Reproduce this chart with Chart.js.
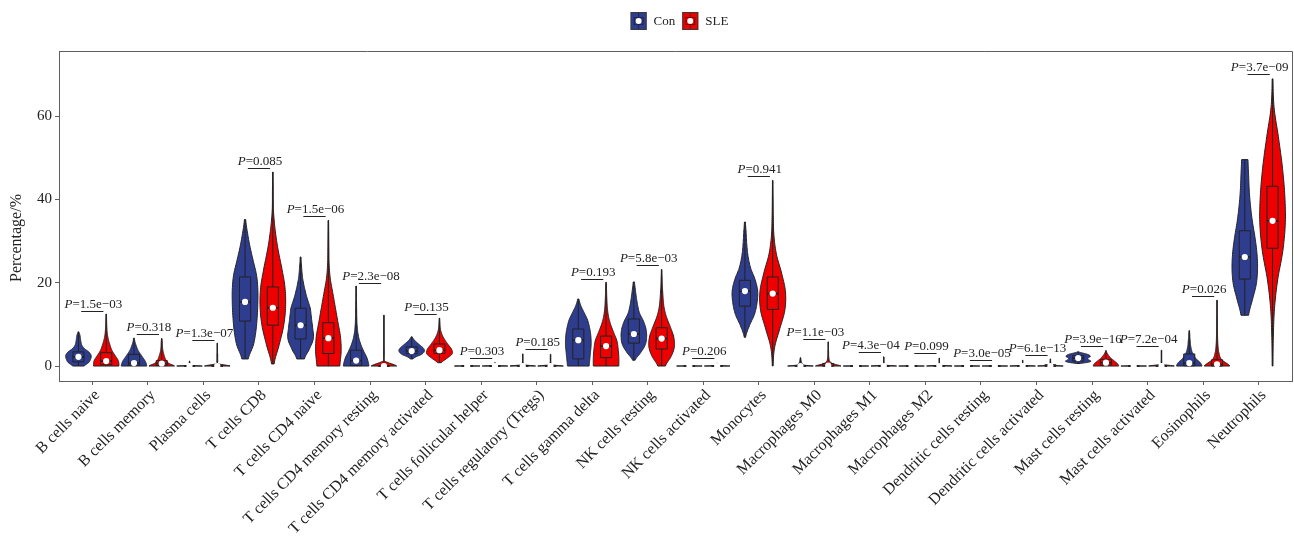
<!DOCTYPE html>
<html>
<head>
<meta charset="utf-8">
<title>Immune cell fractions: Con vs SLE</title>
<script src="https://cdn.jsdelivr.net/npm/chart.js@4.4.1/dist/chart.umd.min.js"></script>
<style>
  html, body { margin: 0; padding: 0; background: #ffffff; }
  #wrap { width: 1294px; height: 538px; }
</style>
</head>
<body>
<div id="wrap"><canvas id="chart" width="1294" height="538"></canvas></div>
<script>
// ---- data -------------------------------------------------------------
const cellTypes = [
  'B cells naive', 'B cells memory', 'Plasma cells', 'T cells CD8', 'T cells CD4 naive',
  'T cells CD4 memory resting', 'T cells CD4 memory activated', 'T cells follicular helper',
  'T cells regulatory (Tregs)', 'T cells gamma delta', 'NK cells resting', 'NK cells activated',
  'Monocytes', 'Macrophages M0', 'Macrophages M1', 'Macrophages M2', 'Dendritic cells resting',
  'Dendritic cells activated', 'Mast cells resting', 'Mast cells activated', 'Eosinophils', 'Neutrophils'
];
const yTicks = [0, 20, 40, 60];

// P values of the Con vs SLE comparison and the height of each bracket (%)
const pValues = ['1.5e\u221203', '0.318', '1.3e\u221207', '0.085', '1.5e\u221206', '2.3e\u221208', '0.135',
  '0.303', '0.185', '0.193', '5.8e\u221203', '0.206', '0.941', '1.1e\u221203', '4.3e\u221204', '0.099',
  '3.0e\u221205', '6.1e\u221213', '3.9e\u221216', '7.2e\u221204', '0.026', '3.7e\u221209'];
const bracketY = [13.2, 7.8, 6.2, 47.6, 36.1, 20.0, 12.5, 2.0, 4.1, 21.0, 24.2, 1.9,
  45.6, 6.5, 3.3, 3.1, 1.4, 2.6, 4.8, 4.9, 16.8, 70.2];

// Con group: range, quartiles and relative density (11 levels from low to high)
const conLow    = [0, 0, 0, 1.7, 1.7, 0, 1.7, 0, 0, 0, 1.4, 0, 6.9, 0, 0, 0, 0, 0, 0.6, 0, 0, 12.2];
const conHigh   = [8.2, 6.7, 1.2, 35.2, 26.2, 19.2, 7.0, 0.4, 2.9, 16.1, 20.2, 0.3, 34.6, 2.0, 0.3, 0.3, 0.3, 1.4, 3.4, 0.3, 8.5, 49.6];
const conQ1     = [1.0, 0.2, 0, 10.8, 6.5, 0.1, 3.0, 0, 0, 1.7, 5.5, 0, 14.4, 0, 0, 0, 0, 0, 1.2, 0, 0.05, 20.9];
const conMedian = [2.2, 0.7, 0, 15.4, 9.8, 1.3, 3.6, 0, 0, 6.2, 7.7, 0, 18.0, 0, 0, 0, 0, 0, 1.9, 0, 0.7, 26.2];
const conQ3     = [3.4, 2.8, 0.05, 21.4, 13.9, 3.8, 4.6, 0.02, 0.05, 8.9, 11.3, 0.02, 20.6, 0.1, 0.02, 0.02, 0.02, 0.1, 2.5, 0.02, 2.9, 32.5];
const conDensity = [
  [.45, .8, .95, 1.0, .85, .5, .28, .2, .16, .12, .04],
  [1.0, .95, .85, .7, .55, .4, .28, .2, .12, .06, .03],
  [1.0, .08, .05, .04, .03, .03, .03, .03, .03, .02, .02],
  [.25, .65, .85, .95, 1.0, 1.0, .9, .65, .4, .2, .05],
  [.3, .7, 1.0, .95, .85, .75, .5, .3, .15, .08, .03],
  [1.0, .85, .55, .3, .15, .08, .05, .04, .03, .02, .02],
  [.1, .35, .75, .95, 1.0, .9, .7, .5, .3, .15, .05],
  [1.0, .3, .1, .05, .04, .03, .03, .02, .02, .02, .02],
  [1.0, .06, .03, .03, .02, .02, .02, .02, .02, .02, .02],
  [.85, .9, .95, 1.0, 1.0, .95, .85, .7, .45, .2, .05],
  [.1, .55, .9, 1.0, .95, .75, .45, .3, .2, .12, .05],
  [1.0, .3, .1, .05, .04, .03, .03, .02, .02, .02, .02],
  [.05, .35, .75, .95, 1.0, .8, .45, .25, .15, .1, .04],
  [1.0, .3, .2, .15, .1, .08, .06, .05, .04, .03, .02],
  [1.0, .3, .1, .05, .04, .03, .03, .02, .02, .02, .02],
  [1.0, .3, .1, .05, .04, .03, .03, .02, .02, .02, .02],
  [1.0, .3, .1, .05, .04, .03, .03, .02, .02, .02, .02],
  [1.0, .08, .04, .03, .02, .02, .02, .02, .02, .02, .02],
  [.15, .75, 1.0, .85, .75, .8, .95, .9, .7, .35, .05],
  [1.0, .3, .1, .05, .04, .03, .03, .02, .02, .02, .02],
  [1.0, .85, .55, .35, .22, .15, .1, .08, .05, .04, .02],
  [.3, .6, .9, 1.0, .95, .8, .6, .45, .35, .3, .25]
];

// SLE group
const sleLow    = [0, 0, 0, 0.5, 0, 0, 0.8, 0, 0, 0, 0, 0, 0, 0, 0, 0, 0, 0, 0, 0, 0, 0];
const sleHigh   = [12.5, 6.6, 5.5, 46.6, 35.0, 12.2, 11.5, 0.8, 2.8, 20.1, 23.2, 0.7, 44.6, 5.8, 2.2, 1.9, 0.3, 1.7, 3.7, 3.8, 15.8, 69.0];
const sleQ1     = [0.3, 0.1, 0, 9.8, 3.0, 0, 3.0, 0, 0, 2.0, 4.1, 0, 13.6, 0, 0, 0, 0, 0, 0.2, 0, 0, 28.3];
const sleMedian = [1.2, 0.6, 0, 14.0, 6.7, 0, 3.8, 0, 0, 4.8, 6.6, 0, 17.4, 0.1, 0, 0, 0, 0, 0.8, 0, 0.4, 34.9];
const sleQ3     = [3.2, 1.3, 0.05, 19.0, 10.4, 0.1, 5.3, 0.02, 0.05, 7.2, 9.2, 0.02, 21.4, 0.6, 0.05, 0.05, 0.02, 0.3, 1.6, 0.05, 1.5, 43.2];
const sleDensity = [
  [1.0, .95, .7, .45, .3, .18, .1, .06, .04, .03, .02],
  [1.0, .55, .35, .25, .18, .12, .08, .06, .05, .04, .02],
  [1.0, .06, .04, .03, .03, .03, .02, .02, .02, .02, .02],
  [.1, .5, .85, 1.0, .95, .7, .4, .18, .05, .03, .02],
  [.9, 1.0, .95, .75, .55, .35, .15, .06, .04, .03, .02],
  [1.0, .05, .03, .03, .02, .02, .02, .02, .02, .02, .02],
  [.15, .6, 1.0, .95, .7, .45, .25, .12, .06, .04, .02],
  [1.0, .3, .1, .05, .04, .03, .03, .02, .02, .02, .02],
  [1.0, .06, .03, .03, .02, .02, .02, .02, .02, .02, .02],
  [1.0, 1.0, .95, .85, .6, .35, .18, .1, .06, .04, .02],
  [.3, .75, 1.0, .95, .7, .4, .2, .12, .07, .04, .02],
  [1.0, .3, .1, .05, .04, .03, .03, .02, .02, .02, .02],
  [.03, .15, .55, .95, 1.0, .7, .3, .1, .05, .03, .02],
  [1.0, .35, .12, .06, .04, .03, .03, .02, .02, .02, .02],
  [1.0, .06, .03, .03, .02, .02, .02, .02, .02, .02, .02],
  [1.0, .06, .03, .03, .02, .02, .02, .02, .02, .02, .02],
  [1.0, .3, .1, .05, .04, .03, .03, .02, .02, .02, .02],
  [1.0, .3, .12, .06, .04, .03, .03, .02, .02, .02, .02],
  [1.0, .95, .85, .7, .55, .4, .3, .2, .12, .06, .02],
  [1.0, .06, .03, .03, .02, .02, .02, .02, .02, .02, .02],
  [1.0, .35, .15, .08, .05, .04, .03, .03, .02, .02, .02],
  [.03, .06, .15, .4, .8, 1.0, .95, .75, .45, .12, .03]
];

// ---- styling ----------------------------------------------------------
const FONT = "'Liberation Serif', 'Times New Roman', serif";
const INK = '#222222';
const AXIS = '#5f5f5f';
const CON_FILL = '#2F3D8E';
const SLE_FILL = '#EE0000';
const GROUP_SHIFT = 0.25;   // dodge of each group from the category centre (x units)
const HALF_VIOLIN = 0.23;   // half of the widest violin (x units)
const HALF_BOX = 0.1;
const HALF_BRACKET = 0.2;

// smooth density lookup (Catmull-Rom through the 11 levels)
function densityAt(w, t) {
  const n = w.length - 1;
  const s = Math.min(Math.max(t, 0), 1) * n;
  const i = Math.min(Math.floor(s), n - 1);
  const f = s - i;
  const p0 = w[Math.max(i - 1, 0)], p1 = w[i], p2 = w[i + 1], p3 = w[Math.min(i + 2, n)];
  const v = 0.5 * (2 * p1 + (-p0 + p2) * f + (2 * p0 - 5 * p1 + 4 * p2 - p3) * f * f +
    (-p0 + 3 * p1 - 3 * p2 + p3) * f * f * f);
  return Math.max(v, 0.01);
}

function drawViolin(ctx, xs, ys, ds, i) {
  const pos = i + ds.shift;
  const cx = xs.getPixelForValue(pos);
  const hw = xs.getPixelForValue(pos + HALF_VIOLIN) - cx;
  const bw = xs.getPixelForValue(pos + HALF_BOX) - cx;
  const low = ds.low[i], high = ds.high[i], shape = ds.density[i];
  const N = 90, right = [], left = [];
  for (let k = 0; k <= N; k++) {
    const t = k / N;
    const py = ys.getPixelForValue(low + t * (high - low));
    const w = densityAt(shape, t) * hw;
    right.push([cx + w, py]);
    left.push([cx - w, py]);
  }
  ctx.save();
  ctx.beginPath();
  ctx.moveTo(right[0][0], right[0][1]);
  for (const p of right) ctx.lineTo(p[0], p[1]);
  for (let k = left.length - 1; k >= 0; k--) ctx.lineTo(left[k][0], left[k][1]);
  ctx.closePath();
  ctx.fillStyle = ds.fillColor;
  ctx.fill();
  ctx.lineWidth = 1;
  ctx.strokeStyle = INK;
  ctx.lineJoin = 'round';
  ctx.stroke();

  // box plot inside the violin
  const yLow = ys.getPixelForValue(low), yHigh = ys.getPixelForValue(high);
  const yQ1 = ys.getPixelForValue(ds.q1[i]), yQ3 = ys.getPixelForValue(ds.q3[i]);
  const yMed = ys.getPixelForValue(ds.median[i]);
  ctx.beginPath();
  ctx.moveTo(cx, yLow); ctx.lineTo(cx, yQ1);
  ctx.moveTo(cx, yQ3); ctx.lineTo(cx, yHigh);
  ctx.stroke();
  ctx.fillStyle = ds.fillColor;
  ctx.fillRect(cx - bw, yQ3, 2 * bw, yQ1 - yQ3);
  ctx.strokeRect(cx - bw, yQ3, 2 * bw, yQ1 - yQ3);
  ctx.beginPath();
  ctx.moveTo(cx - bw, yMed); ctx.lineTo(cx + bw, yMed);
  ctx.lineWidth = 1.6;
  ctx.stroke();
  ctx.beginPath();
  ctx.arc(cx, yMed, 3.1, 0, Math.PI * 2);
  ctx.fillStyle = '#ffffff';
  ctx.fill();
  ctx.restore();
}

function drawPLabel(ctx, xs, ys, i) {
  const cx = xs.getPixelForValue(i);
  const x0 = xs.getPixelForValue(i - HALF_BRACKET), x1 = xs.getPixelForValue(i + HALF_BRACKET);
  const by = Math.round(ys.getPixelForValue(bracketY[i])) + 0.5;
  ctx.save();
  ctx.strokeStyle = INK;
  ctx.lineWidth = 1;
  ctx.beginPath();
  ctx.moveTo(x0, by); ctx.lineTo(x1, by);
  ctx.stroke();
  const italic = 'italic 13px ' + FONT, plain = '13px ' + FONT;
  ctx.font = italic; const wP = ctx.measureText('P').width;
  ctx.font = plain; const wRest = ctx.measureText('=' + pValues[i]).width;
  let tx = cx - (wP + wRest) / 2 + 1;
  ctx.fillStyle = INK;
  ctx.textBaseline = 'alphabetic';
  ctx.textAlign = 'left';
  ctx.font = italic; ctx.fillText('P', tx, by - 4);
  ctx.font = plain; ctx.fillText('=' + pValues[i], tx + wP, by - 4);
  ctx.restore();
}

function drawLegendKey(ctx, x, y, color) {
  // violin key square with the box plot glyph and the white median dot
  const w = 16, h = 18;
  ctx.save();
  ctx.fillStyle = color;
  ctx.fillRect(x, y, w, h);
  ctx.strokeStyle = '#3a3a3a';
  ctx.lineWidth = 1;
  ctx.strokeRect(x + 0.5, y + 0.5, w - 1, h - 1);
  ctx.strokeStyle = 'rgba(20,20,20,0.55)';
  ctx.strokeRect(x + 3.5, y + 5.5, w - 7, h - 11);
  ctx.beginPath();
  ctx.moveTo(x + w / 2, y + 1); ctx.lineTo(x + w / 2, y + 5.5);
  ctx.moveTo(x + w / 2, y + h - 5.5); ctx.lineTo(x + w / 2, y + h - 1);
  ctx.moveTo(x + 3.5, y + h / 2); ctx.lineTo(x + w - 3.5, y + h / 2);
  ctx.stroke();
  ctx.beginPath();
  ctx.arc(x + w / 2, y + h / 2, 3, 0, Math.PI * 2);
  ctx.fillStyle = '#ffffff';
  ctx.fill();
  ctx.restore();
}

const violinPlugin = {
  id: 'violins',
  afterDatasetsDraw(chart) {
    const { ctx, chartArea, scales: { x, y } } = chart;
    ctx.save();
    ctx.beginPath();
    ctx.rect(chartArea.left, chartArea.top, chartArea.right - chartArea.left, chartArea.bottom - chartArea.top);
    ctx.clip();
    chart.data.datasets.forEach(ds => {
      cellTypes.forEach((_, i) => drawViolin(ctx, x, y, ds, i));
    });
    cellTypes.forEach((_, i) => drawPLabel(ctx, x, y, i));
    ctx.restore();
  },
  afterDraw(chart) {
    const { ctx, chartArea } = chart;
    // panel frame (top and right edges; bottom and left come from the axes)
    ctx.save();
    ctx.strokeStyle = AXIS;
    ctx.lineWidth = 1;
    ctx.beginPath();
    ctx.moveTo(chartArea.left, chartArea.top + 0.5);
    ctx.lineTo(chartArea.right + 0.5, chartArea.top + 0.5);
    ctx.lineTo(chartArea.right + 0.5, chartArea.bottom);
    ctx.stroke();

    // y axis title
    ctx.fillStyle = INK;
    ctx.font = '16px ' + FONT;
    ctx.textAlign = 'center';
    ctx.textBaseline = 'middle';
    ctx.translate(17, 238);
    ctx.rotate(-Math.PI / 2);
    ctx.fillText('Percentage/%', 0, 0);
    ctx.restore();

    // legend
    ctx.save();
    ctx.font = '13px ' + FONT;
    ctx.textBaseline = 'middle';
    ctx.textAlign = 'left';
    const items = chart.data.datasets.map(ds => ({ label: ds.label, color: ds.fillColor, w: ctx.measureText(ds.label).width }));
    const keyW = 16, gapKey = 7, gapItem = 7;
    const total = items.reduce((s, it) => s + keyW + gapKey + it.w, 0) + gapItem * (items.length - 1);
    let lx = (chartArea.left + chartArea.right) / 2 - total / 2 + 4;
    const cy = 21;
    items.forEach(it => {
      drawLegendKey(ctx, lx, cy - 9, it.color);
      ctx.fillStyle = INK;
      ctx.fillText(it.label, lx + keyW + gapKey, cy + 1);
      lx += keyW + gapKey + it.w + gapItem;
    });
    ctx.restore();
  }
};

new Chart(document.getElementById('chart'), {
  type: 'scatter',
  data: {
    datasets: [
      {
        label: 'Con', fillColor: CON_FILL, shift: -GROUP_SHIFT,
        low: conLow, high: conHigh, q1: conQ1, median: conMedian, q3: conQ3, density: conDensity,
        data: conMedian.map((v, i) => ({ x: i - GROUP_SHIFT, y: v })),
        pointRadius: 0, showLine: false
      },
      {
        label: 'SLE', fillColor: SLE_FILL, shift: GROUP_SHIFT,
        low: sleLow, high: sleHigh, q1: sleQ1, median: sleMedian, q3: sleQ3, density: sleDensity,
        data: sleMedian.map((v, i) => ({ x: i + GROUP_SHIFT, y: v })),
        pointRadius: 0, showLine: false
      }
    ]
  },
  options: {
    responsive: false,
    animation: false,
    devicePixelRatio: 1,
    layout: { padding: { top: 51, right: 2, left: 0, bottom: 0 } },
    plugins: { legend: { display: false }, tooltip: { enabled: false } },
    scales: {
      x: {
        type: 'linear', min: -0.6, max: 21.6,
        afterBuildTicks: s => { s.ticks = cellTypes.map((_, i) => ({ value: i })); },
        afterFit: s => { s.height = 157; },
        ticks: {
          autoSkip: false, minRotation: 45, maxRotation: 45, padding: 1, labelOffset: 5,
          color: INK, font: { family: FONT, size: 16 }, callback: v => cellTypes[v]
        },
        grid: { display: true, drawOnChartArea: false, drawTicks: true, tickLength: 4, color: AXIS },
        border: { display: true, color: AXIS, width: 1 }
      },
      y: {
        type: 'linear', min: -3.6, max: 75.7,
        afterBuildTicks: s => { s.ticks = yTicks.map(v => ({ value: v })); },
        afterFit: s => { s.width = 59; },
        ticks: { color: INK, font: { family: FONT, size: 15 }, padding: 3 },
        grid: { display: true, drawOnChartArea: false, drawTicks: true, tickLength: 4, color: AXIS },
        border: { display: true, color: AXIS, width: 1 }
      }
    }
  },
  plugins: [violinPlugin]
});
</script>
</body>
</html>
